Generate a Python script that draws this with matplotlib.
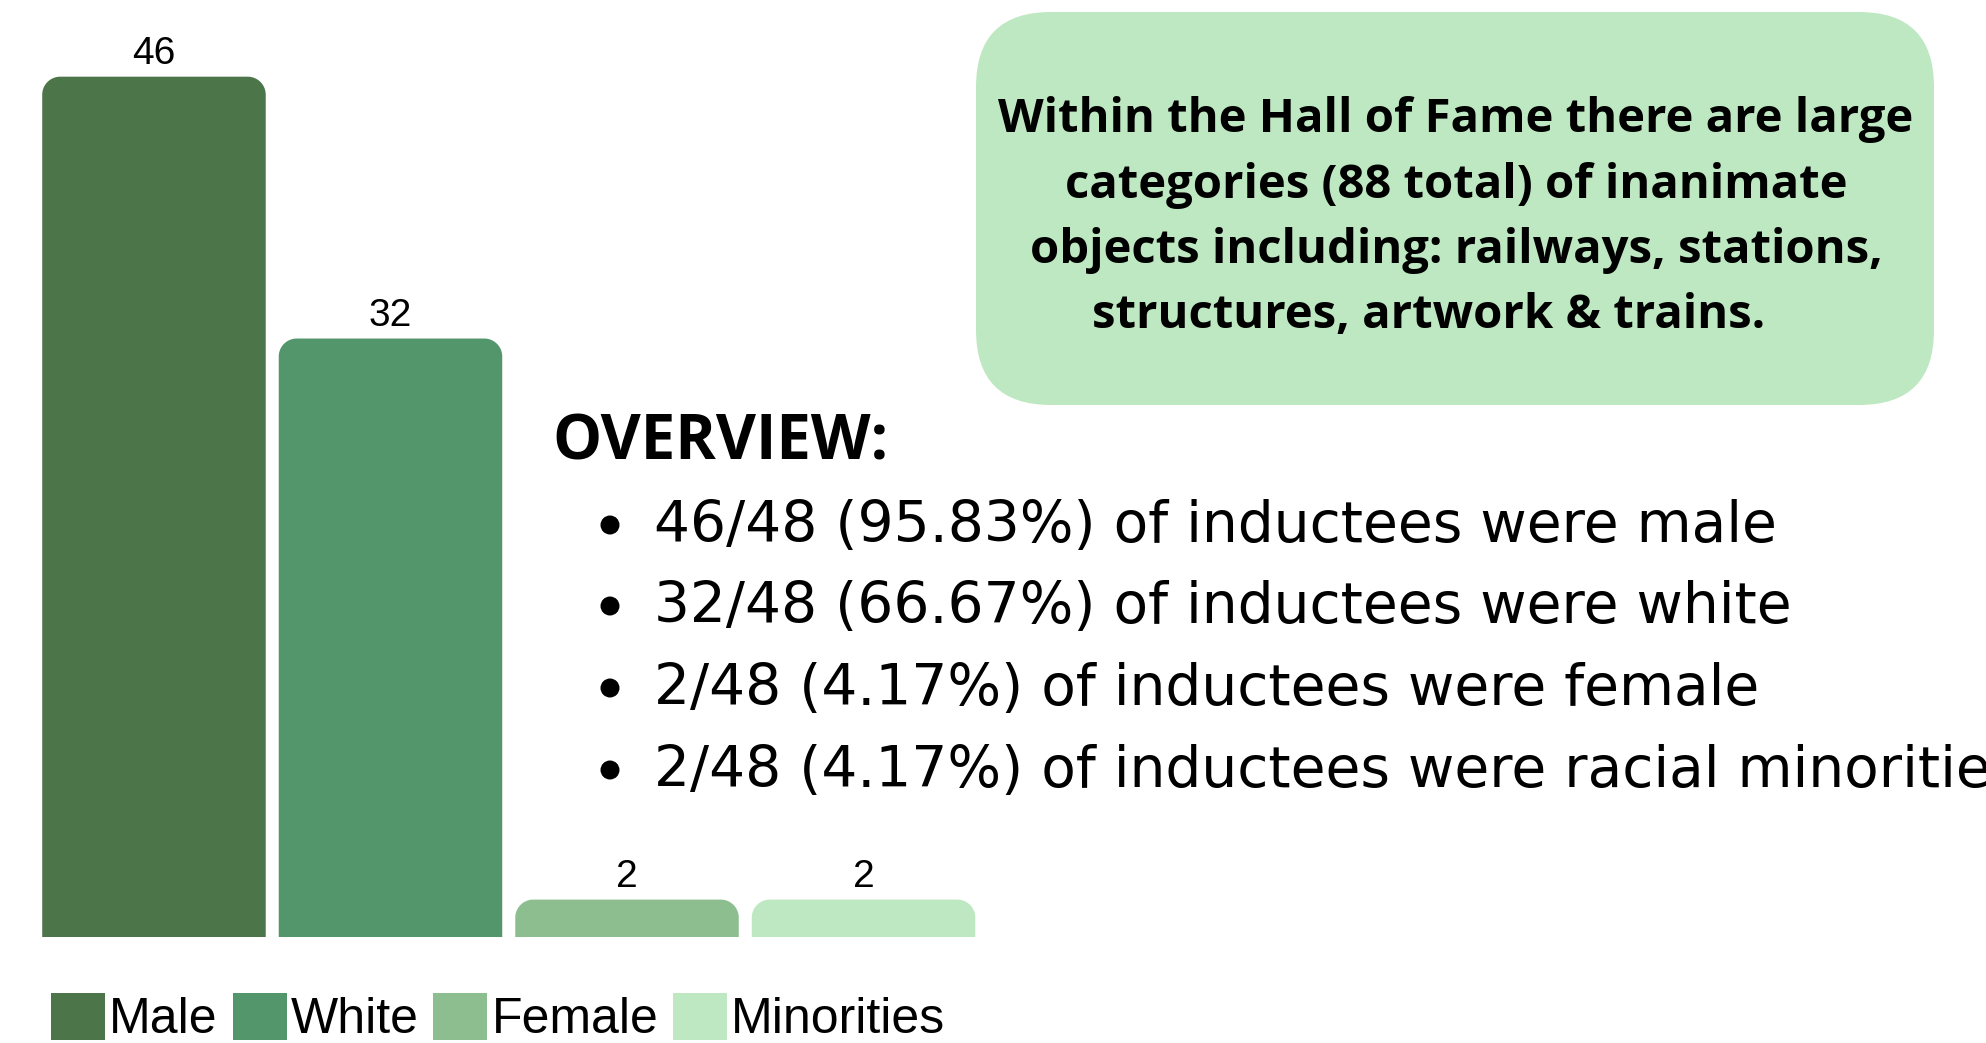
import numpy as np
import matplotlib
matplotlib.use("Agg")
import matplotlib.pyplot as plt
from matplotlib.patches import Patch, PathPatch, FancyBboxPatch, Circle
from matplotlib.path import Path
from matplotlib.transforms import IdentityTransform

# ---------------- data ----------------
categories = ["Male", "White", "Female", "Minorities"]
values = [46, 32, 2, 2]
colors = ["#4C7549", "#54966B", "#8DBE8F", "#BEE8C1"]

box_lines = [
    "Within the Hall of Fame there are large",
    "categories (88 total) of inanimate",
    "objects including: railways, stations,",
    "structures, artwork & trains.",
]
overview_title = "OVERVIEW:"
overview_items = [
    "46/48 (95.83%) of inductees were male",
    "32/48 (66.67%) of inductees were white",
    "2/48 (4.17%) of inductees were female",
    "2/48 (4.17%) of inductees were racial minorities",
]

# ---------------- figure ----------------
W, H = 1986, 1043
DPI = 100
fig = plt.figure(figsize=(W / DPI, H / DPI), dpi=DPI)
fig.patch.set_facecolor("white")


def fx(x):
    return x / W


def fy(y_top):
    return 1 - y_top / H


# bar axes
ax = fig.add_axes([0, 106 / H, 1000 / W, 937 / H])
ax.set_xlim(-0.651, 3.577)
ax.set_ylim(0, 50.1)
ax.axis("off")

xpos = np.arange(len(categories))
bars = ax.bar(xpos, values, width=0.945, color=colors)

bb = ax.get_window_extent()
sx = (ax.get_xlim()[1] - ax.get_xlim()[0]) / bb.width
sy = (ax.get_ylim()[1] - ax.get_ylim()[0]) / bb.height
r_px = 18
t = np.linspace(0, np.pi / 2, 20)
for rect in bars:
    x0, y0, w, h = rect.get_x(), rect.get_y(), rect.get_width(), rect.get_height()
    rx, ry = r_px * sx, r_px * sy
    verts = [(x0, y0), (x0, y0 + h - ry)]
    cx, cy = x0 + rx, y0 + h - ry
    verts += [(cx - rx * np.cos(a), cy + ry * np.sin(a)) for a in t]
    cx, cy = x0 + w - rx, y0 + h - ry
    verts += [(cx + rx * np.sin(a), cy + ry * np.cos(a)) for a in t]
    verts += [(x0 + w, y0), (x0, y0)]
    codes = [Path.MOVETO] + [Path.LINETO] * (len(verts) - 2) + [Path.CLOSEPOLY]
    ax.add_patch(PathPatch(Path(verts, codes), facecolor=rect.get_facecolor(),
                           edgecolor="none"))
    rect.set_visible(False)
    ax.annotate(str(int(h)), (x0 + w / 2, y0 + h), xytext=(0, 9),
                textcoords="offset points", ha="center", va="baseline",
                fontsize=28, family="Liberation Sans", color="black")

# legend
handles = [Patch(facecolor=c, edgecolor="none") for c in colors]
leg = fig.legend(handles, categories, loc="center left",
                 bbox_to_anchor=(fx(51), fy(1018)), ncol=4, frameon=False,
                 prop={"family": "Liberation Sans", "size": 36},
                 handlelength=1.08, handleheight=1.06, handletextpad=0.08,
                 columnspacing=0.3, borderpad=0, borderaxespad=0)

# rounded text box
box = FancyBboxPatch((976, H - 405), 958, 393,
                     boxstyle="round,pad=0,rounding_size=75",
                     transform=IdentityTransform(), facecolor="#BEE8C1",
                     edgecolor="none", zorder=1)
fig.patches.append(box)

box_baselines = [132, 198, 263, 328]
box_centers = [1456, 1456, 1456, 1429]
for txt, yb, xc in zip(box_lines, box_baselines, box_centers):
    fig.text(fx(xc), fy(yb), txt, ha="center", va="baseline", fontsize=34,
             fontweight="bold", family="Open Sans", color="black", zorder=2)

fig.text(fx(552), fy(460), overview_title, ha="left", va="baseline",
         fontsize=44.5, fontweight="bold", family="Open Sans", color="black")

item_baselines = [542, 623, 705, 787]
for txt, yb in zip(overview_items, item_baselines):
    dot = Circle((610, H - (yb - 17)), 9.5, transform=IdentityTransform(),
                 facecolor="black", edgecolor="none")
    fig.patches.append(dot)
    fig.text(fx(654), fy(yb), txt, ha="left", va="baseline",
             fontsize=40.8, family="DejaVu Sans", color="black")

fig.savefig("out.png", dpi=DPI, facecolor="white")
